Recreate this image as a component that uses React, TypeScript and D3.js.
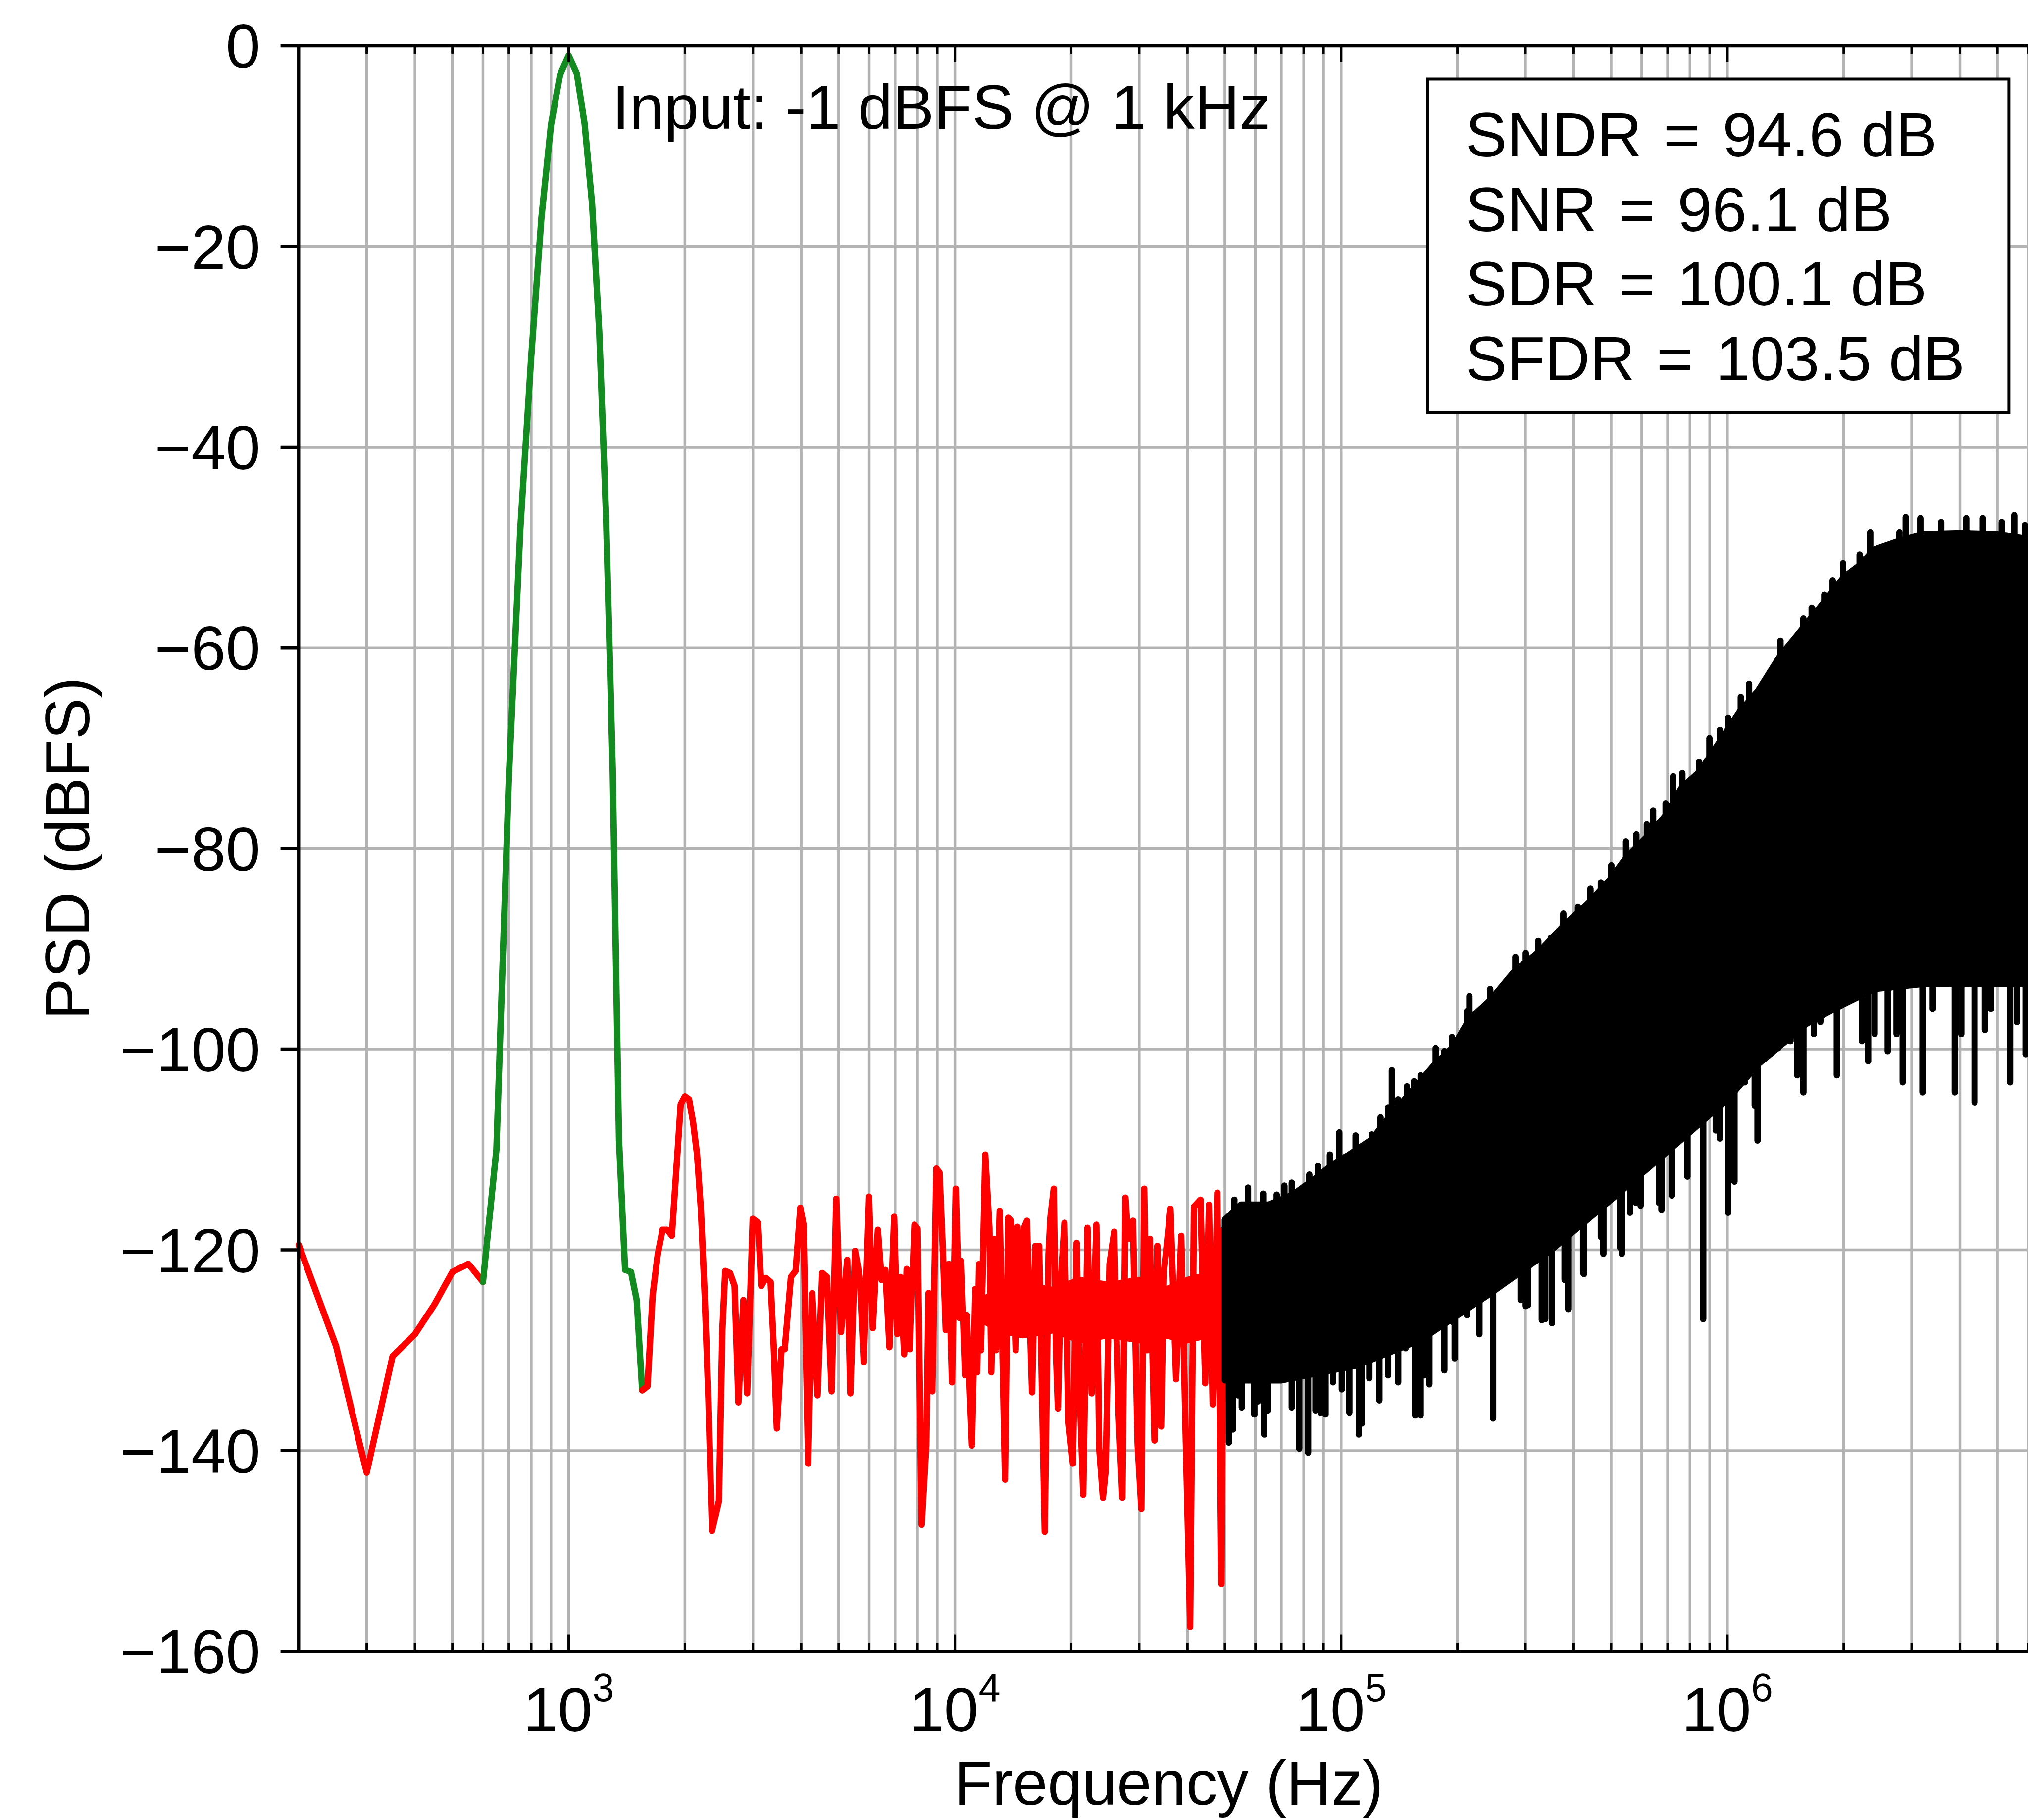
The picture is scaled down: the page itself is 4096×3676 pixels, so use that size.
import React from 'react';
import * as d3 from 'd3';

// ---------- data ----------
// Low-frequency noise (red) below the tone
const redLowFreq = [200, 250, 300, 350, 400, 450, 500, 550, 600];
const redLowPsd = [-119.5, -129.6, -142.2, -130.6, -128.4, -125.4, -122.2, -121.4, -123.2];

// Signal bins (green)
const toneFreq = [600, 650, 700, 750, 800, 850, 900, 950, 1000, 1050, 1100, 1150, 1200, 1250, 1300, 1350, 1400, 1450, 1500, 1550];
const tonePsd = [-123.2, -110, -73, -48, -31, -17.2, -7.9, -2.9, -1.0, -2.8, -7.8, -15.8, -28.5, -47, -72, -109, -122, -122.2, -125, -134];

// In-band noise (red) above the tone, up to 50 kHz
const redFreq = [1550, 1600, 1650, 1700, 1750, 1800, 1850, 1900, 1950, 2000, 2050, 2100, 2150, 2200, 2250, 2300, 2350, 2400, 2450, 2500,
  2543, 2616, 2689, 2751, 2834, 2898, 2996, 3094, 3152, 3241, 3333, 3396, 3459, 3557, 3625, 3762, 3869, 3979, 4055, 4169,
  4271, 4410, 4534, 4663, 4795, 4930, 5070, 5262, 5362, 5513, 5670, 5807, 5995, 6130, 6317, 6460, 6606, 6768, 6961, 7092,
  7226, 7389, 7499, 7640, 7857, 8006, 8202, 8435, 8546, 8739, 8953, 9121, 9293, 9467, 9645, 9827, 10049,
  10269, 10384, 10619, 10740, 11070, 11293, 11420, 11549, 11678, 11980, 12282, 12419, 12630, 12772, 13060, 13480, 13734, 13967,
  14125, 14364, 14523, 14852, 15104, 15361, 15840, 16155, 16520, 17080, 17470, 17668, 18027, 18270, 18477, 18790, 19215, 19649,
  20208, 20665, 21015, 21490, 22040, 22594, 23237, 23631, 24165, 24575, 25131, 25846, 26424, 27140, 27635, 28104, 28900, 29720,
  30390, 30907, 31431, 31964, 32868, 33425, 34181, 34761, 36150, 37385, 38550, 39627, 40653, 41571, 43231, 44460, 45465, 46493,
  47800, 48999, 49600];
const redPsd = [-134, -133.6, -124.5, -120.5, -118, -118, -118.6, -112, -105.5, -104.7, -105, -107.3, -110.5, -116, -124.5, -134.8, -148, -146.5, -145, -128,
  -122.1, -122.3, -123.6, -135.2, -125, -134.3, -116.9, -117.3, -123.6, -122.8, -123.2, -129.7, -137.8, -129.9, -129.9, -122.7, -122.1, -115.8, -117.5, -141.3,
  -124.3, -134.5, -122.3, -122.7, -134.1, -114.9, -128.2, -121, -134.3, -120.1, -122.7, -131.2, -114.7, -127.8, -118, -123, -122, -129.7, -116.7, -128.4,
  -122.7, -130.4, -121.9, -129.9, -117.5, -117.9, -147.4, -139.4, -124.3, -134.1, -111.9, -112.3, -119.5, -128, -121.4, -133.2, -113.9,
  -126.8, -121.1, -132.5, -126.5, -139.5, -123.9, -132.2, -121.4, -130, -110.5, -117.8, -132.2, -118.9, -130, -116.1, -142.9, -116.8, -117.1,
  -120.5, -130, -117.7, -127.2, -117.8, -117.1, -134.2, -119.6, -119.6, -148.1, -120.4, -116.8, -113.9, -130.4, -135.8, -123.2, -117.3, -136.8,
  -141.3, -119.3, -133.3, -144.4, -117.8, -134.3, -117.5, -139.7, -144.7, -141.9, -121.4, -118.2, -134.7, -144.7, -114.8, -118.9, -117.1, -139.4,
  -145.8, -113.9, -130, -118.9, -139, -119.6, -137.6, -122.2, -115.9, -132.9, -118.6, -139.4, -157.6, -115.7, -115, -133.3, -115.5, -135.4,
  -114.3, -153.3, -118];
// Dense core of the red trace (where bins merge)
const redCoreFreq = [11.8e3, 13e3, 15e3, 18e3, 21e3, 25e3, 30e3, 35e3, 40e3, 45e3, 49.6e3];
const redCoreTop = [-125, -124, -123.5, -124, -123, -123.5, -123, -124, -123, -122.5, -123];
const redCoreBot = [-127, -128, -128.5, -128, -129, -128.5, -129, -128.5, -129, -128.5, -128.5];

// Out-of-band shaped noise (black): solid band edges
const bandTopFreq = [50e3, 55e3, 65e3, 75e3, 85e3, 95e3, 105e3, 120e3, 135e3, 150e3, 175e3, 195e3, 215e3, 245e3, 280e3, 325e3, 375e3, 440e3, 500e3,
  550e3, 620e3, 690e3, 760e3, 850e3, 950e3, 1.08e6, 1.2e6, 1.37e6, 1.55e6, 1.75e6, 2.0e6, 2.2e6, 2.4e6, 2.8e6, 3.2e6, 4e6, 5e6, 6.4e6];
const bandTopPsd = [-117, -115.5, -115.5, -114.5, -113, -111.5, -110.5, -109, -106.5, -104.5, -101.5, -99.8, -97, -95, -92.3, -90.3, -87.8, -85.3, -83,
  -80.8, -78.8, -76.8, -74, -72.3, -69.5, -66.3, -64.3, -60.8, -58.3, -55.8, -53, -51.8, -50.2, -49.3, -48.7, -48.6, -48.7, -49.3];
const bandBotFreq = [50e3, 70e3, 110e3, 160e3, 240e3, 350e3, 500e3, 760e3, 1.0e6, 1.2e6, 1.6e6, 2.0e6, 2.4e6, 3.2e6, 4.5e6, 6.4e6];
const bandBotPsd = [-133, -133, -131.5, -129, -124.5, -120, -115, -109, -105, -101.5, -97.5, -95.5, -94, -93.5, -93.5, -93.5];
// Black spikes above the band
const peakFreq = [52.9e3, 57.4e3, 62.8e3, 68.1e3, 71.3e3, 74.5e3, 79.7e3, 82.7e3, 87.1e3, 93.5e3, 98.9e3, 102.7e3, 109e3, 120.1e3, 126.5e3, 132.3e3, 135.3e3,
  140.4e3, 148e3, 154.3e3, 160.6e3, 168e3, 175.7e3, 185.1e3, 193.6e3, 207e3, 211.7e3, 214.8e3, 243.2e3, 272.1e3, 282.5e3, 300.6e3, 323.9e3, 349e3,
  376e3, 410.4e3, 442e3, 470.4e3, 500.6e3, 546.4e3, 581.3e3, 618.6e3, 642.1e3, 692e3, 723.7e3, 764.4e3, 844.6e3, 898.6e3, 956.3e3, 1.005e6,
  1.083e6, 1.138e6, 1.289e6, 1.372e6, 1.573e6, 1.653e6, 1.782e6, 1.873e6, 1.993e6, 2.2e6, 2.343e6, 2.789e6, 2.895e6, 3.158e6, 3.577e6, 4.153e6,
  4.587e6, 5.133e6, 5.53e6, 5.886e6];
const peakPsd = [-115, -113.8, -114.4, -114.5, -113.6, -113.3, -113.8, -112.5, -111.6, -110.5, -108.3, -110.7, -108.6, -108.5, -106.8, -105.8, -102.1,
  -105, -103.7, -103.2, -102.6, -103, -99.9, -100.2, -98.8, -98.7, -96.2, -94.7, -94, -93.4, -90.8, -90.4, -89.2, -88.9,
  -86.5, -85.8, -84, -83.4, -81.7, -79.3, -78.6, -77.6, -76.2, -75.5, -72.8, -72.5, -71.4, -69, -68.2, -67,
  -64.9, -63.6, -62.9, -59.3, -57.1, -56, -54.7, -53.3, -51.6, -50.7, -48.5, -48.5, -47, -47.1, -47.5, -47.1,
  -47.1, -47.5, -46.8, -47.8];
// Black spikes below the band
const dipFreq = [51.2e3, 52.5e3, 54.1e3, 55.3e3, 59.6e3, 60.9e3, 63.2e3, 64.7e3, 74.5e3, 77.9e3, 82.1e3, 85.8e3, 88.4e3, 91.1e3, 95.3e3, 100.4e3, 105e3, 111.1e3, 113.1e3,
  118.3e3, 125.6e3, 132.3e3, 140.5e3, 146.9e3, 155.4e3, 160.6e3, 164.3e3, 169.2e3, 181e3, 185e3, 194.9e3, 196.8e3, 211.6e3, 228e3, 247.4e3, 279e3, 291.5e3, 300.6e3, 304.8e3,
  330.8e3, 337.6e3, 351.2e3, 378.9e3, 387e3, 423e3, 425.4e3, 470.4e3, 477.5e3, 527.8e3, 532.9e3, 560e3, 578.8e3, 596e3, 665e3, 675e3, 702e3, 718.3e3, 783.8e3, 788e3, 865.8e3, 933e3, 955.5e3,
  1.005e6, 1.032e6, 1.043e6, 1.073e6, 1.11e6, 1.141e6, 1.177e6, 1.197e6, 1.232e6, 1.273e6, 1.298e6, 1.355e6, 1.402e6, 1.457e6,
  1.516e6, 1.573e6, 1.674e6, 1.74e6, 1.92e6, 2.229e6, 2.314e6, 2.405e6, 2.601e6, 2.658e6, 2.742e6, 2.844e6, 3.199e6, 3.402e6, 3.536e6,
  3.879e6, 4.031e6, 4.222e6, 4.365e6, 4.645e6, 4.814e6, 5.043e6, 5.393e6, 5.617e6, 5.836e6, 5.914e6];
const dipPsd = [-139.2, -137.9, -134.5, -135.7, -136.4, -135.1, -138.4, -136, -135.7, -139.8, -140.2, -136, -136.2, -136.4, -133.2, -133.9, -136.2, -138.4, -137.3,
  -132.8, -135, -132.5, -133.2, -129.8, -136.5, -136.5, -132.5, -133.4, -124.4, -132, -127.2, -130.8, -126.5, -128.4, -136.8, -122.6, -125, -125.6, -125.5,
  -127, -126.9, -127.3, -123, -125.9, -122.3, -122.4, -118.7, -120.4, -119.8, -120.4, -116.3, -115.3, -115.6, -115.3, -116, -110.1, -114.6, -108.4, -112.7, -126.9, -108.1, -108.9,
  -116.3, -105.6, -113.2, -99.8, -103.3, -102.4, -105.6, -109.1, -97.3, -99.2, -95.3, -99.9, -98.5, -99.2,
  -102.6, -104.3, -98.5, -97.3, -102.6, -99.2, -101.2, -98.5, -100.2, -93.4, -98.5, -103.3, -104.3, -96, -93.4,
  -104.3, -98.5, -93.4, -105.3, -98.1, -96, -93.4, -103.3, -97.3, -93.4, -100.5];

// Axes
const yTickValues = [0, -20, -40, -60, -80, -100, -120, -140, -160];
const xDecadeExponents = [3, 4, 5, 6];
const annotation = 'Input: -1 dBFS @ 1 kHz';
const metricNames = ['SNDR', 'SNR', 'SDR', 'SFDR'];
const metricValues = [94.6, 96.1, 100.1, 103.5];

const FONT = "'Liberation Sans', Arial, Helvetica, sans-serif";

export default function App() {
  const W = 4135, H = 3711;
  const left = 609, right = 4157, top = 93, bottom = 3367;
  const x = d3.scaleLog().domain([200, 6.4e6]).range([left, right]);
  const y = d3.scaleLinear().domain([-160, 0]).range([bottom, top]);
  const zip = (a: number[], b: number[]) => a.map((v, i) => [v, b[i]] as [number, number]);
  const line = d3.line<[number, number]>().x(d => x(d[0])).y(d => y(d[1]));

  const topInterp = d3.scaleLinear().domain(bandTopFreq.map(Math.log10)).range(bandTopPsd).clamp(true);
  const botInterp = d3.scaleLinear().domain(bandBotFreq.map(Math.log10)).range(bandBotPsd).clamp(true);

  const bandPts = zip(bandTopFreq, bandTopPsd).concat(zip(bandBotFreq, bandBotPsd).reverse());
  const bandPath = line(bandPts) + 'Z';
  const redCorePts = zip(redCoreFreq, redCoreTop).concat(zip(redCoreFreq, redCoreBot).reverse());
  const redCorePath = line(redCorePts) + 'Z';

  const gridFreqs: { f: number; major: boolean }[] = [];
  for (let k = 2; k <= 6; k++) {
    for (let m = 1; m <= 9; m++) {
      const f = m * Math.pow(10, k);
      if (f > 200 && f <= 6.4e6) gridFreqs.push({ f, major: m === 1 });
    }
  }

  const grey = '#b3b3b3';
  const lw = 13;
  const fs = 127;

  return (
    <svg width={4096} height={3676} viewBox={`0 0 ${W} ${H}`}
      style={{ position: 'absolute', left: 0, top: 0, display: 'block', background: '#fff' }}
      fontFamily={FONT}>
      <rect x={0} y={0} width={W} height={H} fill="#fff" />
      {/* grid */}
      <g stroke={grey} strokeWidth={5.5}>
        {gridFreqs.map((g, i) => (
          <line key={'gx' + i} x1={x(g.f)} x2={x(g.f)} y1={top} y2={bottom} />
        ))}
        {yTickValues.map((v, i) => (
          <line key={'gy' + i} x1={left} x2={right} y1={y(v)} y2={y(v)} />
        ))}
      </g>

      {/* data */}
      <g fill="none" strokeLinejoin="round" strokeLinecap="round" strokeWidth={lw}>
        <path d={line(zip(redLowFreq, redLowPsd)) || ''} stroke="#ff0000" />
        <path d={line(zip(toneFreq, tonePsd)) || ''} stroke="#138b21" />
        <path d={line(zip(redFreq, redPsd)) || ''} stroke="#ff0000" />
        <path d={redCorePath} stroke="#ff0000" fill="#ff0000" />
        <path d={bandPath} stroke="#000" fill="#000" />
        {peakFreq.map((f, i) => (
          <line key={'pk' + i} x1={x(f)} x2={x(f)} y1={y(peakPsd[i])} y2={y(topInterp(Math.log10(f)))} stroke="#000" />
        ))}
        {dipFreq.map((f, i) => (
          <line key={'dp' + i} x1={x(f)} x2={x(f)} y1={y(dipPsd[i])} y2={y(botInterp(Math.log10(f)))} stroke="#000" />
        ))}
      </g>

      {/* axes */}
      <g stroke="#000" strokeWidth={6.5} fill="none">
        <line x1={left} x2={right} y1={top} y2={top} />
        <line x1={left} x2={right} y1={bottom} y2={bottom} />
        <line x1={left} x2={left} y1={top} y2={bottom} />
        {yTickValues.map((v, i) => (
          <line key={'yt' + i} x1={left - 37} x2={left} y1={y(v)} y2={y(v)} />
        ))}
      </g>
      <g stroke="#000" strokeWidth={5}>
        {gridFreqs.map((g, i) => {
          const len = g.major ? 34 : 17;
          return (
            <g key={'xt' + i}>
              <line x1={x(g.f)} x2={x(g.f)} y1={bottom} y2={bottom - len} />
              <line x1={x(g.f)} x2={x(g.f)} y1={top} y2={top + len} />
            </g>
          );
        })}
      </g>

      {/* tick labels */}
      <g fontSize={fs} fill="#000">
        {yTickValues.map((v, i) => (
          <text key={'yl' + i} x={531} y={y(v) + 0.358 * fs} textAnchor="end">
            {v < 0 ? '\u2212' + Math.abs(v) : String(v)}
          </text>
        ))}
        {xDecadeExponents.map((e, i) => (
          <text key={'xl' + i} x={x(Math.pow(10, e))} y={3530} textAnchor="middle">
            <tspan>10</tspan>
            <tspan fontSize={80} dy={-61}>{e}</tspan>
          </text>
        ))}
      </g>

      {/* axis labels */}
      <text x={(left + right) / 2} y={3680} textAnchor="middle" fontSize={fs} fill="#000">Frequency (Hz)</text>
      <text transform={`translate(182, ${(top + bottom) / 2}) rotate(-90)`} textAnchor="middle" fontSize={fs} fill="#000">PSD (dBFS)</text>

      {/* annotation */}
      <text x={1248} y={262} fontSize={fs} fill="#000">{annotation}</text>

      {/* metrics box */}
      <rect x={2911} y={161} width={4096 - 2911} height={841 - 161} fill="#fff" stroke="#000" strokeWidth={6} />
      <g fontSize={fs} fill="#000">
        {metricNames.map((n, i) => (
          <text key={'m' + i} x={2988} y={319 + i * 152}>
            <tspan>{n}</tspan>
            <tspan dx={44}>=</tspan>
            <tspan dx={46}>{`${metricValues[i].toFixed(1)} dB`}</tspan>
          </text>
        ))}
      </g>
    </svg>
  );
}
